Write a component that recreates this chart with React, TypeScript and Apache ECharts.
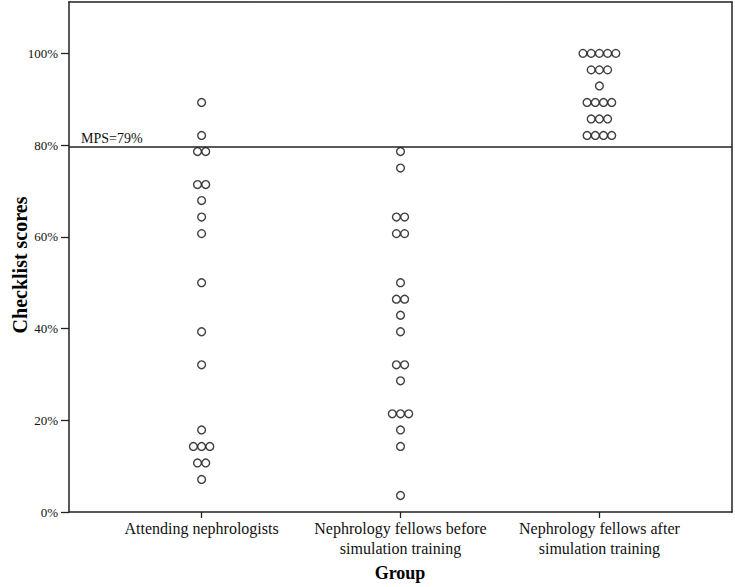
import React, { useEffect, useRef } from "react";
import * as echarts from "echarts";

const categories = [
  "Attending nephrologists",
  "Nephrology fellows before\nsimulation training",
  "Nephrology fellows after\nsimulation training",
];
const categoryPositions = [2, 5, 8];

const attending = [89.3, 82.1, 78.6, 78.6, 71.4, 71.4, 67.9, 64.3, 60.7, 50.0, 39.3, 32.1, 17.9, 14.3, 14.3, 14.3, 10.7, 10.7, 7.1];
const fellowsBefore = [78.6, 75.0, 64.3, 64.3, 60.7, 60.7, 50.0, 46.4, 46.4, 42.9, 39.3, 32.1, 32.1, 28.6, 21.4, 21.4, 21.4, 17.9, 14.3, 3.6];
const fellowsAfter = [100, 100, 100, 100, 100, 96.4, 96.4, 96.4, 92.9, 89.3, 89.3, 89.3, 89.3, 85.7, 85.7, 85.7, 82.1, 82.1, 82.1, 82.1];

const yTicks = [0, 20, 40, 60, 80, 100];
const mpsValue = 79.6;
const mpsLabel = "MPS=79%";
const xTitle = "Group";
const yTitle = "Checklist scores";

const FONT = "'Liberation Serif', 'Times New Roman', serif";
const DODGE = 0.124;

function dodge(values: number[], center: number): number[][] {
  const counts: Record<string, number> = {};
  values.forEach((v) => (counts[String(v)] = (counts[String(v)] || 0) + 1));
  const seen: Record<string, number> = {};
  return values.map((v) => {
    const k = String(v);
    const n = counts[k];
    const i = seen[k] || 0;
    seen[k] = i + 1;
    return [center + (i - (n - 1) / 2) * DODGE, v];
  });
}

export default function App() {
  const ref = useRef<HTMLDivElement>(null);
  useEffect(() => {
    if (!ref.current) return;
    const chart = echarts.init(ref.current, null, { renderer: "svg" });
    const groups = [attending, fellowsBefore, fellowsAfter];
    const lineColor = "#222";
    const frameAxisLine = { show: true, onZero: false, lineStyle: { color: lineColor, width: 1.5 } };
    const symbolStyle = { color: "#fff", borderColor: "#111", borderWidth: 1.4 };
    chart.setOption({
      animation: false,
      backgroundColor: "#fff",
      grid: {
        left: 69,
        right: 3,
        top: 2,
        bottom: 75,
        outerBoundsMode: "none",
        containLabel: false,
        show: false,
      },
      graphic: [
        {
          type: "text",
          x: 400,
          y: 573,
          style: {
            text: xTitle,
            font: `bold 18px ${FONT}`,
            fill: "#000",
            align: "center",
            verticalAlign: "middle",
          },
        },
        {
          type: "text",
          x: 20,
          y: 265,
          rotation: Math.PI / 2,
          style: {
            text: yTitle,
            font: `bold 20px ${FONT}`,
            fill: "#000",
            align: "center",
            verticalAlign: "middle",
          },
        },
      ],
      xAxis: [
        {
          type: "value",
          min: 0,
          max: 10,
          interval: 1,
          splitLine: { show: false },
          axisLine: frameAxisLine,
          axisTick: { show: true, customValues: categoryPositions, length: 6, lineStyle: { color: lineColor, width: 1.3 } },
          axisLabel: {
            customValues: categoryPositions,
            formatter: (v: number) => {
              const idx = categoryPositions.indexOf(Math.round(v));
              return idx >= 0 ? categories[idx] : "";
            },
            fontFamily: FONT,
            fontSize: 16,
            color: "#111",
            lineHeight: 20,
            margin: 6,
          },
        },
        {
          type: "value",
          position: "top",
          min: 0,
          max: 10,
          interval: 1,
          splitLine: { show: false },
          axisLine: frameAxisLine,
          axisTick: { show: false },
          axisLabel: { show: false },
        },
      ],
      yAxis: [
        {
          type: "value",
          min: 0,
          max: 111.2,
          splitLine: { show: false },
          axisLine: frameAxisLine,
          axisTick: { show: true, customValues: yTicks, length: 8, lineStyle: { color: lineColor, width: 1.3 } },
          axisLabel: {
            customValues: yTicks,
            formatter: (v: number) => `${v}%`,
            fontFamily: FONT,
            fontSize: 13,
            color: "#111",
            margin: 11,
          },
        },
        {
          type: "value",
          position: "right",
          min: 0,
          max: 111.2,
          splitLine: { show: false },
          axisLine: frameAxisLine,
          axisTick: { show: false },
          axisLabel: { show: false },
        },
      ],
      series: groups.map((vals, gi) => ({
        type: "scatter",
        symbol: "circle",
        symbolSize: 7.8,
        itemStyle: symbolStyle,
        data: dodge(vals, categoryPositions[gi]),
        markLine:
          gi === 0
            ? {
                silent: true,
                symbol: "none",
                lineStyle: { color: lineColor, width: 1.6, type: "solid" },
                label: {
                  show: true,
                  position: "insideStartTop",
                  formatter: mpsLabel,
                  fontFamily: FONT,
                  fontSize: 14,
                  color: "#111",
                  distance: [12, 1],
                },
                data: [{ yAxis: mpsValue }],
              }
            : undefined,
      })),
    });
    return () => chart.dispose();
  }, []);
  return (
    <div
      ref={ref}
      style={{ position: "absolute", left: 0, top: 0, width: 735, height: 587 }}
    />
  );
}
